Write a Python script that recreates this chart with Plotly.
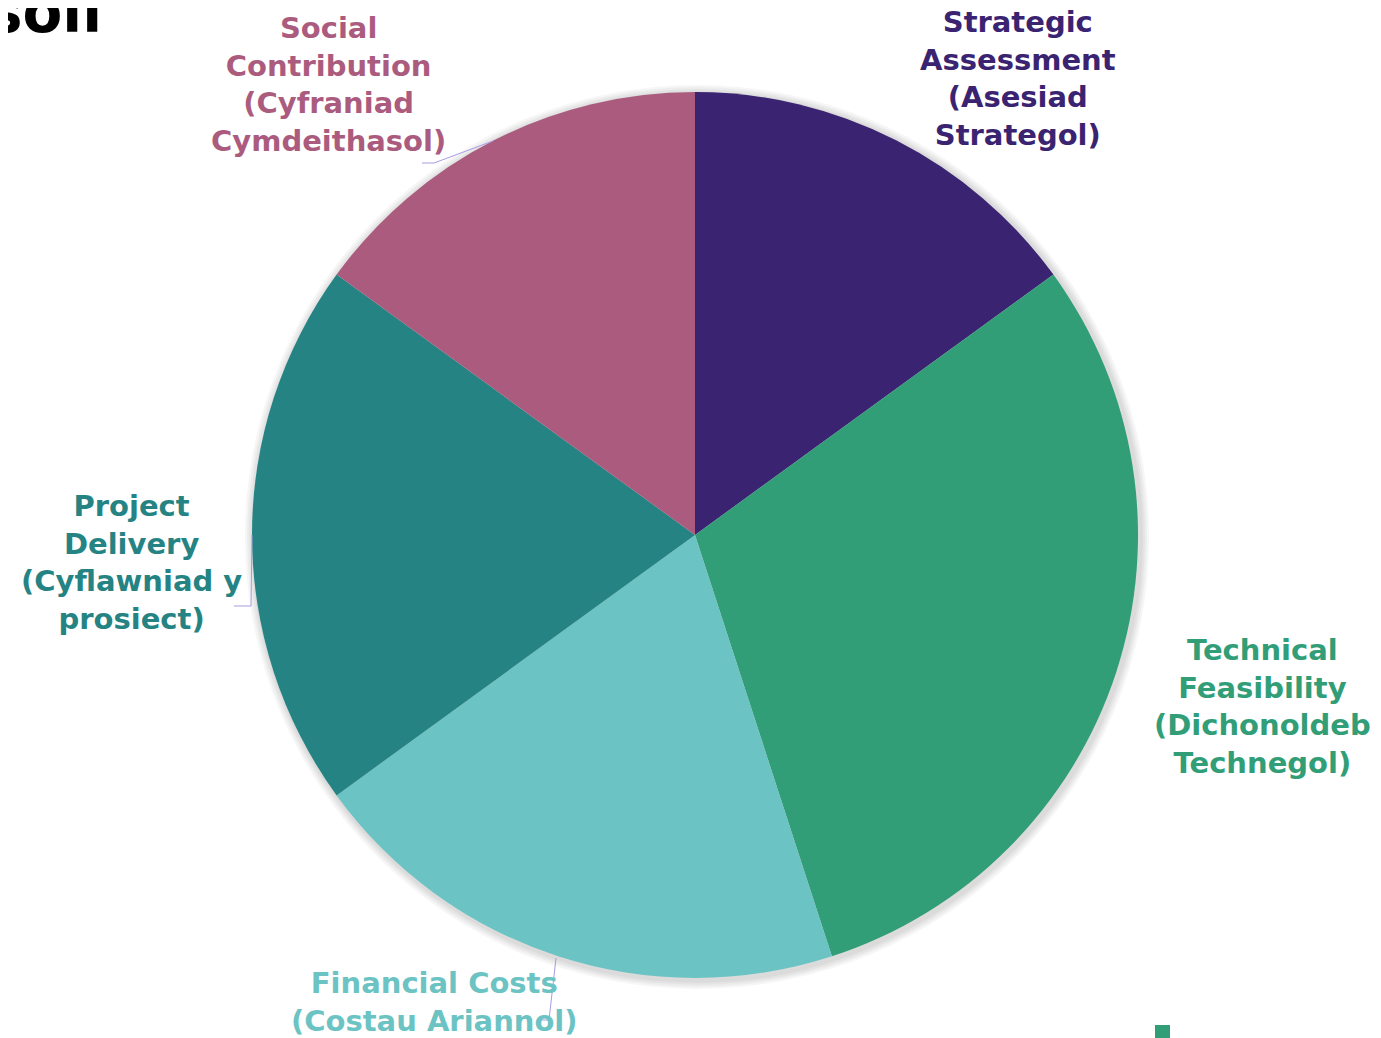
import plotly.graph_objects as go

W, H = 1381, 1038
OFF = 8  # page body margin

categories = [
    "Strategic<br>Assessment<br>(Asesiad<br>Strategol)",
    "Technical<br>Feasibility<br>(Dichonoldeb<br>Technegol)",
    "Financial Costs<br>(Costau Ariannol)",
    "Project<br>Delivery<br>(Cyflawniad y<br>prosiect)",
    "Social<br>Contribution<br>(Cyfraniad<br>Cymdeithasol)",
]
values = [15, 30, 20, 20, 15]
colors = ["#3A2471", "#319E77", "#6CC3C3", "#258483", "#AB5C7E"]

FONT = "DejaVu Sans"
cx, cy, R = 695, 535, 443


def px_x(x):
    return (x - OFF) / W


def px_y(y):
    return 1 - (y - OFF) / H


def dom(r, ox=0, oy=0):
    return dict(
        x=[px_x(cx + ox - r), px_x(cx + ox + r)],
        y=[px_y(cy + oy + r), px_y(cy + oy - r)],
    )


fig = go.Figure()

# soft shadow
for k in [9, 7, 5, 3]:
    fig.add_trace(go.Pie(
        values=[1], labels=["s"], marker=dict(colors=["rgba(0,0,0,0.035)"], line=dict(width=0)),
        domain=dom(R + k, 2, 2), textinfo="none", hoverinfo="skip", showlegend=False, sort=False,
    ))

fig.add_trace(go.Pie(
    labels=[c.replace("<br>", " ") for c in categories],
    values=values,
    marker=dict(colors=colors, line=dict(width=0)),
    sort=False,
    direction="clockwise",
    rotation=0,
    textinfo="none",
    domain=dom(R),
    showlegend=False,
))

# label positions (pixel centres)
label_pos = [(1018, 79), (1262, 706), (435, 1002), (131, 562), (328, 84)]
for text, col, (px, py) in zip(categories, colors, label_pos):
    fig.add_annotation(
        x=px_x(px), y=px_y(py), xref="paper", yref="paper",
        text=text, showarrow=False, xanchor="center", yanchor="middle",
        font=dict(family=FONT, size=29, color=col, weight="bold"), align="center",
    )

# leader lines
line_col = "#A99BE3"
leaders = [
    [(493, 141), (434, 163), (422, 163)],
    [(252, 535), (251, 606), (234, 606)],
    [(556, 958), (549, 1020), (540, 1020)],
]
for pts in leaders:
    path = "M " + " L ".join(f"{px_x(x)},{px_y(y)}" for x, y in pts)
    fig.add_shape(type="path", path=path, xref="paper", yref="paper",
                  line=dict(color=line_col, width=1))

# clipped title fragment
fig.add_annotation(
    x=px_x(104), y=px_y(48), xref="paper", yref="paper", text="soll",
    showarrow=False, xanchor="right", yanchor="bottom",
    font=dict(family=FONT, size=58, color="black", weight="bold"),
)

# clipped legend marker
fig.add_shape(type="rect", xref="paper", yref="paper",
              x0=px_x(1155), x1=px_x(1170), y0=px_y(1045), y1=px_y(1025),
              fillcolor="#319E77", line=dict(width=0))

fig.update_layout(
    width=W, height=H,
    margin=dict(l=0, r=0, t=0, b=0),
    paper_bgcolor="white", plot_bgcolor="white",
)

fig.write_html("out.html")
